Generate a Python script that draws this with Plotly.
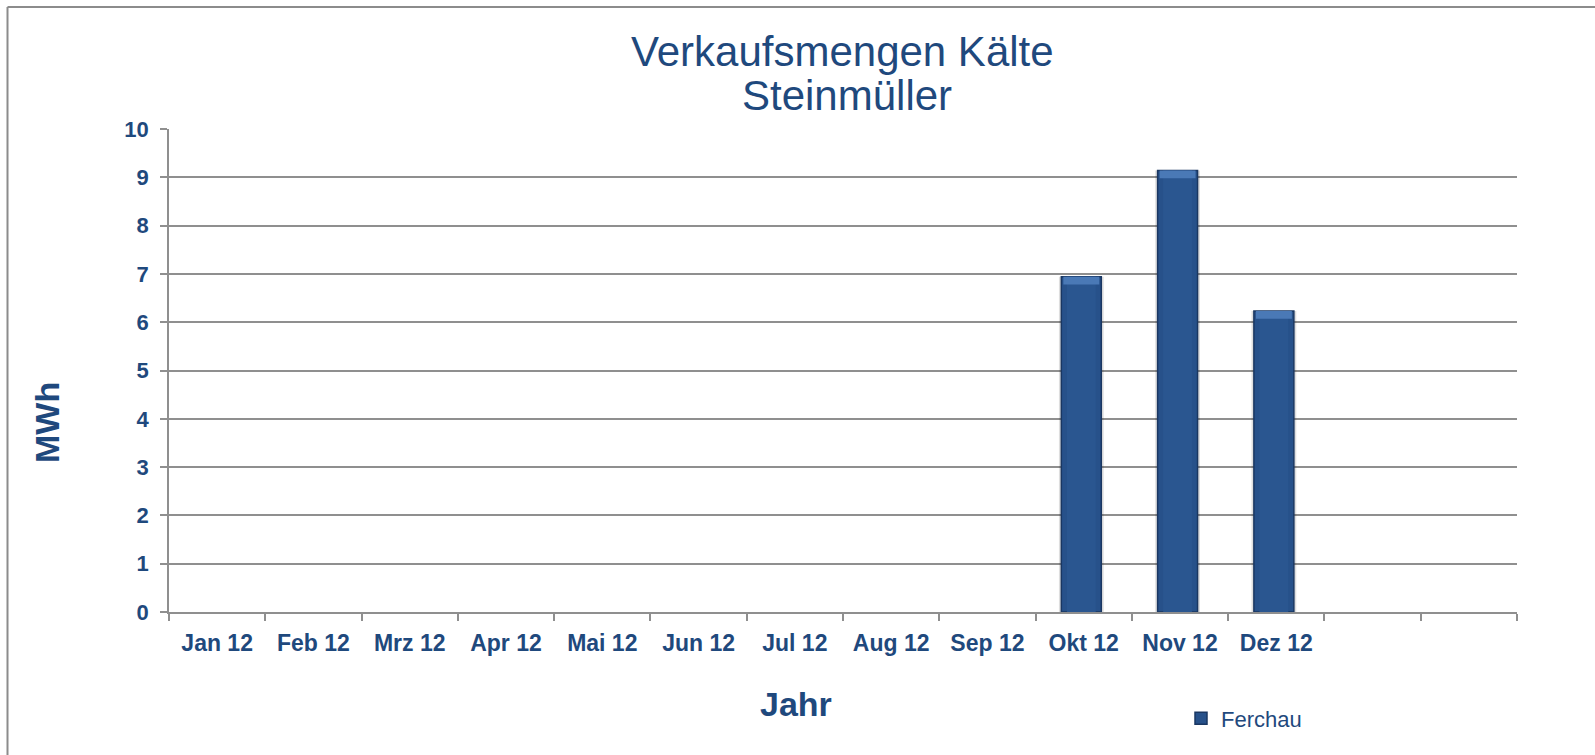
import plotly.graph_objects as go

# ---- data ----
categories = ["Jan 12", "Feb 12", "Mrz 12", "Apr 12", "Mai 12", "Jun 12", "Jul 12",
              "Aug 12", "Sep 12", "Okt 12", "Nov 12", "Dez 12", " ", "  "]
ferchau = [None, None, None, None, None, None, None, None, None, 6.94, 9.14, 6.23, None, None]
series_name = "Ferchau"
title_line1 = "Verkaufsmengen Kälte"
title_line2 = "Steinmüller"
x_title = "Jahr"
y_title = "MWh"
y_ticks = list(range(0, 11))

# ---- geometry (pixels) ----
W, H = 1595, 755
L, R, T, B = 169, 1517, 129, 612
PW, PH = R - L, B - T


def px(x):
    return (x - L) / PW


def py(y):
    return (B - y) / PH


TXT = "#1F497D"
GRID = "#8F8F8F"
FONT = "Liberation Sans, Arial, sans-serif"
BW = 0.415
SHIFT = -0.025


def off(w):
    return -w / 2 + SHIFT


fig = go.Figure()
# soft shadow
fig.add_trace(go.Bar(x=categories, y=ferchau, width=BW + 0.05, offset=off(BW + 0.05),
                     marker=dict(color="rgba(0,0,0,0.13)", line=dict(width=0)),
                     showlegend=False, hoverinfo="skip"))
# main bar
fig.add_trace(go.Bar(x=categories, y=ferchau, width=BW, offset=off(BW), name=series_name,
                     marker=dict(color="#27518A", line=dict(color="#1A3762", width=1.5))))
# inner lighter body
fig.add_trace(go.Bar(x=categories, y=ferchau, width=BW * 0.72, offset=off(BW * 0.72),
                     marker=dict(color="#2A5690", line=dict(width=0)),
                     showlegend=False, hoverinfo="skip"))
# bevel top cap
cap = [None if v is None else 0.16 for v in ferchau]
cap_base = [None if v is None else v - 0.16 for v in ferchau]
fig.add_trace(go.Bar(x=categories, y=cap, base=cap_base, width=BW * 0.9, offset=off(BW * 0.9),
                     marker=dict(color="#4A79B6", line=dict(width=0)),
                     showlegend=False, hoverinfo="skip"))

fig.update_layout(
    width=W, height=H,
    margin=dict(l=L, r=W - R, t=T, b=H - B, pad=0),
    paper_bgcolor="white", plot_bgcolor="white",
    barmode="overlay",
    font=dict(family=FONT, color=TXT),
    showlegend=True,
    legend=dict(x=px(1181), y=py(718.5), xanchor="left", yanchor="middle",
                font=dict(size=22, color=TXT, family=FONT),
                bgcolor="rgba(0,0,0,0)", borderwidth=0),
    xaxis=dict(type="category", categoryorder="array", categoryarray=categories,
               range=[-0.5, len(categories) - 0.5],
               tickson="boundaries", ticks="outside", ticklen=7, tickwidth=1.5,
               tickcolor=GRID, showline=True, linecolor=GRID, linewidth=1.5,
               showgrid=False, zeroline=False,
               tickfont=dict(size=23, color=TXT, family=FONT, weight="bold"),
               ticklabelstandoff=10),
    yaxis=dict(range=[0, 10], tickvals=y_ticks, ticks="outside", ticklen=7,
               tickwidth=1.5, tickcolor=GRID, showline=True, linecolor=GRID,
               linewidth=1.5, showgrid=True, gridcolor=GRID, gridwidth=1.5,
               zeroline=False,
               tickfont=dict(size=22, color=TXT, family=FONT, weight="bold"),
               ticklabelstandoff=7),
    annotations=[
        dict(text=title_line1, x=px(842.5), y=py(51.2), xref="paper", yref="paper",
             xanchor="center", yanchor="middle", showarrow=False,
             font=dict(size=42, color=TXT, family=FONT)),
        dict(text=title_line2, x=px(846.5), y=py(95.9), xref="paper", yref="paper",
             xanchor="center", yanchor="middle", showarrow=False,
             font=dict(size=42, color=TXT, family=FONT)),
        dict(text=x_title, x=px(795.7), y=py(703.9), xref="paper", yref="paper",
             xanchor="center", yanchor="middle", showarrow=False,
             font=dict(size=34, color=TXT, family=FONT, weight="bold")),
        dict(text=y_title, x=px(47), y=py(423), xref="paper", yref="paper",
             xanchor="center", yanchor="middle", showarrow=False, textangle=-90,
             font=dict(size=34, color=TXT, family=FONT, weight="bold")),
    ],
    shapes=[
        dict(type="line", xref="paper", yref="paper", x0=px(7.5), x1=px(W + 5),
             y0=py(7), y1=py(7), line=dict(color="#8C8C8C", width=2)),
        dict(type="line", xref="paper", yref="paper", x0=px(7.5), x1=px(7.5),
             y0=py(7), y1=py(H + 5), line=dict(color="#8C8C8C", width=2)),
    ],
)

fig.write_html("out.html",
               config={"displayModeBar": False},
               post_script="document.body.style.margin='0';document.body.style.overflow='hidden';")
